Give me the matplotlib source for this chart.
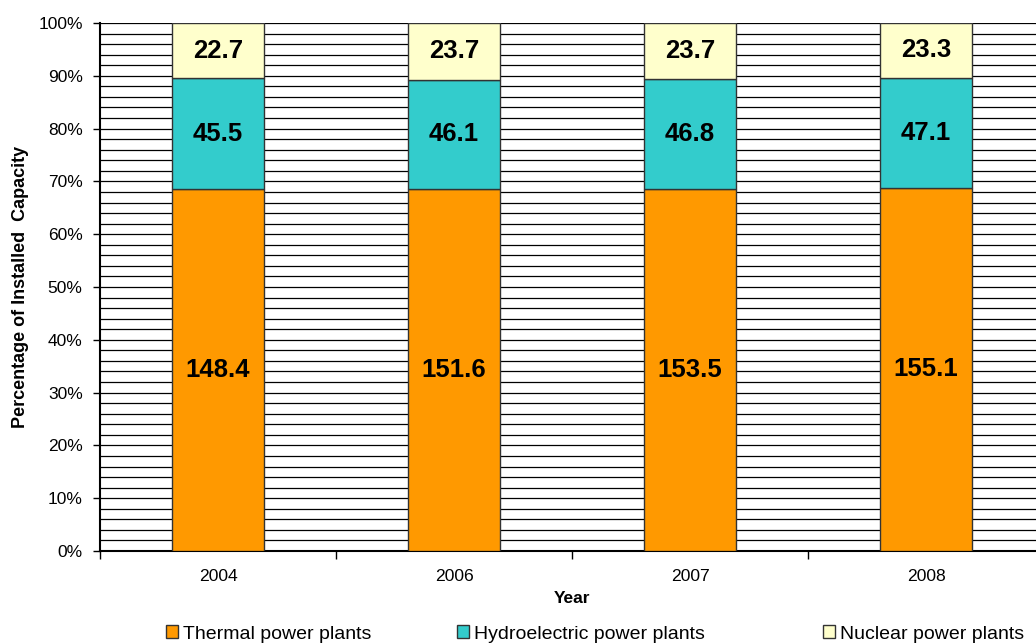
import numpy as np
import matplotlib.pyplot as plt
from matplotlib.ticker import FuncFormatter

plt.rcParams['font.family'] = ['Liberation Sans', 'DejaVu Sans']

years = ['2004', '2006', '2007', '2008']
thermal = [148.4, 151.6, 153.5, 155.1]
hydro = [45.5, 46.1, 46.8, 47.1]
nuclear = [22.7, 23.7, 23.7, 23.3]

series_names = ['Thermal power plants', 'Hydroelectric power plants', 'Nuclear power plants']
colors = ['#FF9900', '#33CCCC', '#FFFFCC']

data = np.array([thermal, hydro, nuclear])
share = data / data.sum(axis=0) * 100

fig = plt.figure(figsize=(10.36, 6.44), dpi=100)
ax = fig.add_axes([100/1036, 93/644, 944/1036, 528/644])

x = np.arange(len(years))
bottom = np.zeros(len(years))
handles = []
for i in range(3):
    b = ax.bar(x, share[i], 0.394, bottom=bottom, color=colors[i], edgecolor='#333333',
               linewidth=1, label=series_names[i], zorder=3)
    handles.append(b)
    for j in range(len(years)):
        ax.text(x[j], bottom[j] + share[i][j] / 2, '%.1f' % data[i][j], ha='center', va='center',
                fontsize=18.5, fontweight='bold', zorder=4)
    bottom += share[i]

ax.set_xlim(-0.5, 3.5)
ax.set_ylim(0, 100)
ax.set_yticks(np.arange(0, 101, 10))
ax.set_yticks(np.arange(0, 101, 2), minor=True)
ax.yaxis.set_major_formatter(FuncFormatter(lambda v, p: '%d%%' % v))
ax.yaxis.grid(True, which='both', color='black', linewidth=0.9, zorder=0)
ax.tick_params(axis='y', which='major', direction='out', length=5, width=1, pad=7.5, labelsize=12.5)
ax.tick_params(axis='y', which='minor', length=0)

ax.set_xticks(x)
ax.set_xticklabels(years)
ax.set_xticks(np.arange(-0.5, 4, 1), minor=True)
ax.tick_params(axis='x', which='major', length=0, pad=13, labelsize=12.6)
ax.tick_params(axis='x', which='minor', direction='out', length=6, width=1)

for s in ['top', 'right']:
    ax.spines[s].set_visible(False)
ax.spines['left'].set_linewidth(1.5)
ax.spines['bottom'].set_linewidth(1.5)

ax.set_xlabel('Year', fontsize=12.5, fontweight='bold', labelpad=5)
ax.set_ylabel('Percentage of Installed  Capacity', fontsize=13, fontweight='bold')
ax.yaxis.set_label_coords(-0.075, 0.5)

# legend entries placed one by one, as in the reference
leg_x = [166, 457, 823]
for i in range(3):
    lg = fig.legend([handles[i]], [series_names[i]], loc='center left',
                    bbox_to_anchor=(leg_x[i]/1036, 10/644), frameon=False, fontsize=14,
                    handlelength=0.6, handleheight=0.6, handletextpad=0.25,
                    borderpad=0, borderaxespad=0)

fig.savefig('out.png', dpi=100)
